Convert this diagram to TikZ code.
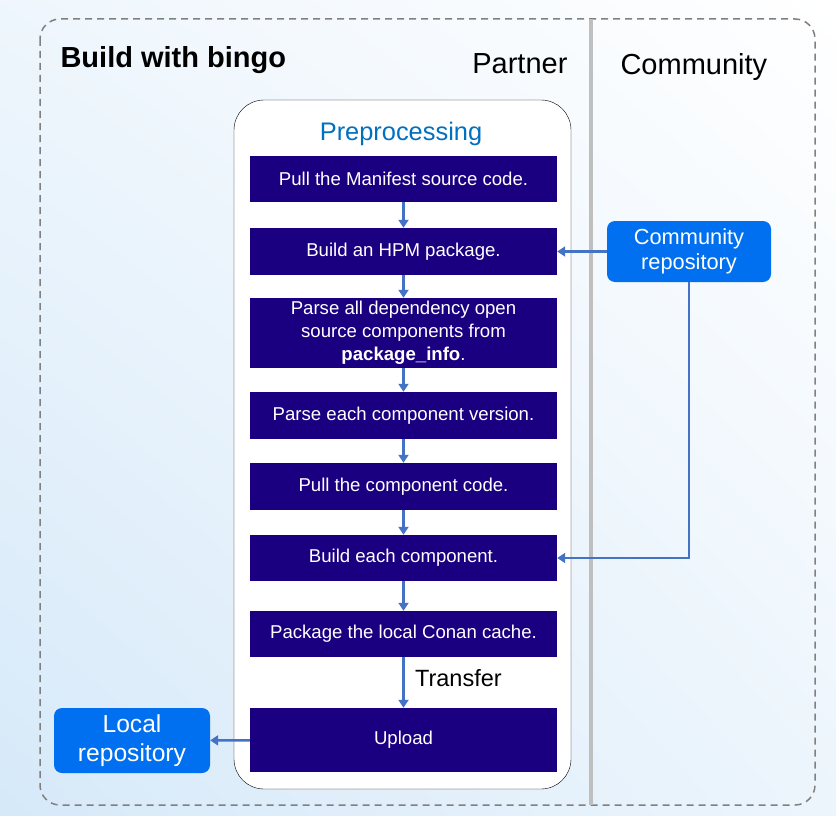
\documentclass[tikz,border=0pt]{standalone}
\usepackage{fontspec}
\setmainfont{Liberation Sans}
\usetikzlibrary{arrows.meta, shadings}
\definecolor{stepcol}{RGB}{26,0,128}
\definecolor{repocol}{RGB}{0,112,240}
\definecolor{flowcol}{RGB}{68,114,196}
\definecolor{titlecol}{RGB}{0,112,192}
\definecolor{lanecol}{RGB}{191,191,191}
\definecolor{framecol}{RGB}{128,128,128}
\definecolor{skycol}{RGB}{214,233,249}
\tikzset{
  stepbox/.style={rectangle, fill=stepcol, text=white, inner sep=0pt,
    minimum width=307pt, align=center,
    font=\fontsize{18.6}{23}\selectfont},
  repobox/.style={rectangle, rounded corners=8pt, fill=repocol, text=white,
    inner sep=0pt, align=center},
  flow/.style={flowcol, line width=2.5pt, -{Triangle[width=10pt,length=8pt]}},
}
\begin{document}
\begin{tikzpicture}[x=1pt, y=-1pt]
  \useasboundingbox (0,0) rectangle (836,816);
  \shade[upper left=white!60!skycol, upper right=white, lower left=skycol,
    lower right=white!55!skycol] (0,0) rectangle (836,816);
  % frame and lanes
  \draw[framecol, line width=1.5pt, dash pattern=on 7pt off 5pt,
    rounded corners=20pt] (40,19) rectangle (815,805);
  \draw[lanecol, line width=4pt] (591,19) -- (591,805);
  \node[anchor=base west, font=\fontsize{29}{33}\selectfont\bfseries]
    (title) at (57,67) {Build with bingo};
  \node[anchor=base east, font=\fontsize{29}{33}\selectfont]
    (partner) at (571,74) {Partner};
  \node[anchor=base west, font=\fontsize{29}{33}\selectfont]
    (community) at (617,75) {Community};
  % preprocessing container
  \draw[fill=white, rounded corners=30pt] (234,100) rectangle (571,789);
  \node[anchor=base, text=titlecol, font=\fontsize{25.4}{29}\selectfont]
    (pre) at (401,140) {Preprocessing};
  % steps
  \node[stepbox, minimum height=46pt] (b1) at (403.5,179) {Pull the Manifest source code.};
  \node[stepbox, minimum height=47pt] (b2) at (403.5,251.5) {Build an HPM package.};
  \node[stepbox, minimum height=70pt] (b3) at (403.5,333)
    {Parse all dependency open\\source components from\\\textbf{package\_info}.};
  \node[stepbox, minimum height=47pt] (b4) at (403.5,415.5) {Parse each component version.};
  \node[stepbox, minimum height=47pt] (b5) at (403.5,486.5) {Pull the component code.};
  \node[stepbox, minimum height=46pt] (b6) at (403.5,558) {Build each component.};
  \node[stepbox, minimum height=46pt] (b7) at (403.5,634) {Package the local Conan cache.};
  \node[stepbox, minimum height=64pt] (b8) at (403.5,740) {Upload};
  % repositories
  \node[repobox, minimum width=164pt, minimum height=61pt,
    font=\fontsize{21.8}{25}\selectfont] (comm) at (689,251.5) {Community\\repository};
  \node[repobox, minimum width=156pt, minimum height=65pt,
    font=\fontsize{24.6}{29}\selectfont] (local) at (132,740.5) {Local\\repository};
  % connectors
  \foreach \a/\b in {b1/b2, b2/b3, b3/b4, b4/b5, b5/b6, b6/b7}
    \draw[flow] (\a) -- (\b);
  \draw[flow] (b7) -- node[right, xshift=7pt, yshift=4pt, text=black,
    font=\fontsize{23.5}{27}\selectfont] {Transfer} (b8);
  \draw[flow] (comm) -- (b2);
  \draw[flow] (comm.south) |- (b6.east);
  \draw[flow] (b8) -- (local);
\end{tikzpicture}
\end{document}
